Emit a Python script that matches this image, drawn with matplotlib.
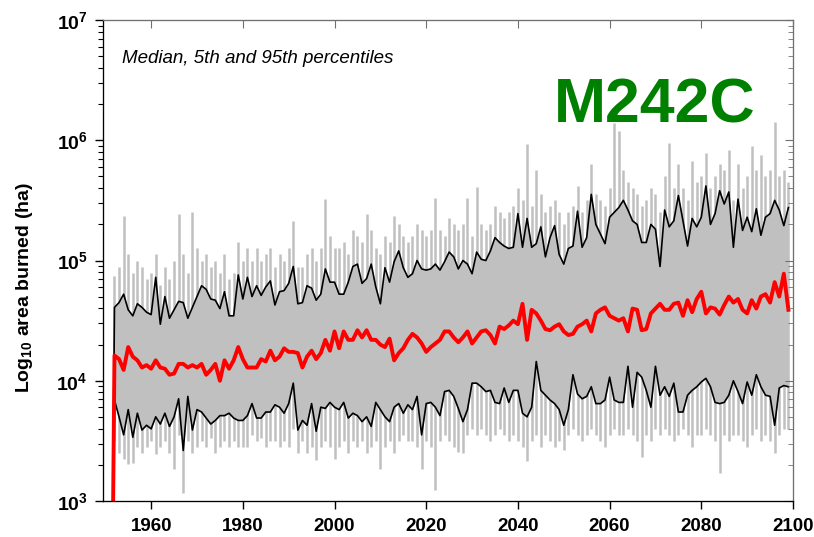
import numpy as np
import matplotlib
matplotlib.use("Agg")
import matplotlib.pyplot as plt
from matplotlib.ticker import FixedLocator, FixedFormatter, LogLocator, NullFormatter

plt.rcParams['font.family'] = ['Liberation Sans', 'DejaVu Sans']
plt.rcParams['mathtext.fontset'] = 'custom'
plt.rcParams['mathtext.rm'] = 'Liberation Sans'
plt.rcParams['mathtext.it'] = 'Liberation Sans:italic'
plt.rcParams['mathtext.bf'] = 'Liberation Sans:bold'

# simulation years; every series below is log10(area burned, ha)
years = np.arange(1952, 2100)
spinup_year = 1951
spinup_log = 0.0

p95 = [4.61, 4.65, 4.72, 4.59, 4.54, 4.64, 4.61, 4.57, 4.55,
       4.86, 4.47, 4.70, 4.52, 4.59, 4.66, 4.65, 4.52, 4.61, 4.70,
       4.79, 4.76, 4.68, 4.67, 4.60, 4.74, 4.54, 4.54, 4.88, 4.68,
       4.86, 4.70, 4.79, 4.71, 4.78, 4.83, 4.63, 4.74, 4.75, 4.81,
       4.95, 4.64, 4.65, 4.79, 4.77, 4.67, 4.72, 4.93, 4.82, 4.82,
       4.72, 4.72, 4.82, 4.95, 4.97, 4.81, 4.85, 4.97, 4.78, 4.64,
       4.94, 4.82, 4.99, 5.08, 4.94, 4.86, 4.89, 5.00, 4.93, 4.92,
       4.93, 4.97, 4.92, 4.99, 5.07, 5.03, 4.93, 5.00, 4.97, 4.89,
       5.07, 5.01, 5.00, 5.08, 5.19, 5.15, 5.12, 5.10, 5.11, 5.39,
       5.11, 5.35, 5.11, 5.14, 5.28, 5.03, 5.19, 5.29, 5.05, 4.97,
       5.10, 5.12, 5.41, 5.11, 5.19, 5.55, 5.30, 5.22, 5.14, 5.36,
       5.40, 5.44, 5.50, 5.42, 5.33, 5.30, 5.15, 5.15, 5.30, 5.26,
       4.95, 5.42, 5.28, 5.33, 5.54, 5.33, 5.12, 5.35, 5.28, 5.36,
       5.62, 5.30, 5.39, 5.58, 5.47, 5.57, 5.11, 5.51, 5.25, 5.36,
       5.24, 5.43, 5.21, 5.36, 5.39, 5.50, 5.42, 5.29, 5.44]

median = [4.21, 4.18, 4.09, 4.28, 4.20, 4.17, 4.11, 4.13, 4.10,
          4.17, 4.11, 4.10, 4.05, 4.06, 4.14, 4.14, 4.11, 4.13, 4.11,
          4.14, 4.05, 4.09, 4.14, 4.00, 4.17, 4.10, 4.17, 4.28, 4.18,
          4.11, 4.11, 4.11, 4.18, 4.16, 4.25, 4.17, 4.20, 4.27, 4.24,
          4.24, 4.23, 4.11, 4.20, 4.25, 4.18, 4.23, 4.34, 4.25, 4.41,
          4.27, 4.41, 4.34, 4.34, 4.42, 4.36, 4.42, 4.34, 4.34, 4.30,
          4.28, 4.35, 4.17, 4.23, 4.27, 4.34, 4.39, 4.36, 4.31, 4.24,
          4.28, 4.31, 4.34, 4.41, 4.41, 4.36, 4.32, 4.36, 4.41, 4.31,
          4.36, 4.41, 4.42, 4.38, 4.31, 4.45, 4.43, 4.46, 4.50, 4.47,
          4.64, 4.34, 4.59, 4.56, 4.50, 4.43, 4.42, 4.45, 4.47, 4.41,
          4.38, 4.39, 4.45, 4.47, 4.50, 4.41, 4.56, 4.59, 4.61, 4.54,
          4.52, 4.50, 4.52, 4.41, 4.60, 4.59, 4.42, 4.43, 4.56, 4.60,
          4.64, 4.59, 4.59, 4.64, 4.65, 4.54, 4.67, 4.57, 4.68, 4.74,
          4.56, 4.61, 4.60, 4.55, 4.63, 4.70, 4.65, 4.68, 4.59, 4.56,
          4.67, 4.60, 4.70, 4.72, 4.65, 4.82, 4.70, 4.89, 4.59]

p5 = [3.84, 3.70, 3.55, 3.76, 3.53, 3.73, 3.59, 3.63, 3.60,
      3.70, 3.64, 3.73, 3.62, 3.70, 3.85, 3.42, 3.87, 3.59, 3.76,
      3.74, 3.69, 3.64, 3.67, 3.71, 3.71, 3.73, 3.69, 3.67, 3.67,
      3.71, 3.81, 3.69, 3.69, 3.74, 3.74, 3.80, 3.78, 3.73, 3.81,
      3.98, 3.59, 3.67, 3.63, 3.81, 3.58, 3.78, 3.77, 3.82, 3.78,
      3.76, 3.82, 3.69, 3.73, 3.71, 3.66, 3.70, 3.62, 3.82, 3.76,
      3.70, 3.66, 3.78, 3.81, 3.73, 3.80, 3.76, 3.87, 3.55, 3.81,
      3.82, 3.78, 3.71, 3.91, 3.92, 3.87, 3.77, 3.66, 3.76, 3.98,
      3.98, 3.95, 3.91, 3.92, 3.82, 3.81, 3.94, 3.82, 3.92, 3.92,
      3.73, 3.70, 3.78, 4.16, 3.92, 3.88, 3.84, 3.81, 3.76, 3.63,
      3.76, 4.05, 3.89, 3.85, 3.87, 3.95, 3.81, 3.81, 3.84, 4.03,
      3.84, 3.82, 3.82, 4.12, 3.78, 4.07, 4.03, 3.92, 3.78, 4.12,
      3.88, 3.95, 3.87, 3.98, 3.74, 3.74, 3.88, 3.92, 3.95, 3.99,
      4.02, 3.95, 3.82, 3.81, 3.82, 3.88, 4.00, 3.91, 3.81, 3.99,
      3.88, 4.05, 3.95, 3.88, 3.87, 3.63, 3.94, 3.96, 3.95]

# largest and smallest run in each year
ens_max = [4.87, 4.95, 5.37, 5.05, 4.90, 5.00, 4.95, 4.85, 4.90,
           5.05, 4.80, 4.95, 4.85, 5.00, 5.39, 5.05, 4.90, 5.40, 5.10,
           5.00, 5.05, 4.95, 5.00, 4.90, 5.05, 4.85, 4.90, 5.15, 5.00,
           5.10, 5.00, 5.10, 5.00, 5.05, 5.10, 4.95, 5.05, 5.00, 5.10,
           5.33, 4.95, 4.95, 5.05, 5.10, 5.00, 5.10, 5.51, 5.20, 5.10,
           5.10, 5.15, 5.05, 5.25, 5.20, 5.15, 5.39, 5.25, 5.10, 5.05,
           5.20, 5.15, 5.37, 5.30, 5.20, 5.15, 5.20, 5.30, 5.25, 5.20,
           5.25, 5.52, 5.25, 5.20, 5.35, 5.30, 5.25, 5.30, 5.52, 5.20,
           5.61, 5.30, 5.25, 5.30, 5.45, 5.40, 5.35, 5.40, 5.45, 5.60,
           5.50, 5.97, 5.45, 5.75, 5.55, 5.40, 5.45, 5.50, 5.40, 5.30,
           5.40, 5.45, 5.62, 5.40, 5.50, 5.80, 5.55, 5.50, 5.45, 5.60,
           6.14, 6.08, 5.75, 5.65, 5.60, 5.55, 5.45, 5.50, 5.60, 5.55,
           5.40, 5.70, 5.98, 5.60, 5.80, 5.60, 5.50, 5.83, 5.65, 5.70,
           5.89, 5.60, 5.70, 5.80, 5.75, 5.92, 5.50, 5.80, 5.60, 5.70,
           5.95, 5.75, 5.88, 5.70, 5.75, 6.15, 5.70, 5.75, 5.65]

ens_min = [3.50, 3.40, 3.35, 3.31, 3.32, 3.45, 3.40, 3.45, 3.50,
           3.39, 3.45, 3.50, 3.40, 3.27, 3.55, 3.07, 3.50, 3.40, 3.45,
           3.50, 3.45, 3.52, 3.40, 3.45, 3.50, 3.45, 3.50, 3.45, 3.45,
           3.45, 3.55, 3.50, 3.52, 3.45, 3.50, 3.50, 3.45, 3.50, 3.45,
           3.60, 3.40, 3.50, 3.40, 3.45, 3.34, 3.45, 3.50, 3.45, 3.35,
           3.45, 3.50, 3.40, 3.50, 3.45, 3.50, 3.40, 3.45, 3.50, 3.27,
           3.45, 3.50, 3.40, 3.50, 3.55, 3.50, 3.50, 3.45, 3.27, 3.50,
           3.45, 3.09, 3.50, 3.55, 3.50, 3.45, 3.41, 3.40, 3.55, 3.60,
           3.55, 3.60, 3.55, 3.50, 3.55, 3.60, 3.55, 3.50, 3.55, 3.50,
           3.45, 3.33, 3.50, 3.55, 3.45, 3.55, 3.50, 3.45, 3.50, 3.42,
           3.55, 3.60, 3.55, 3.50, 3.55, 3.60, 3.55, 3.50, 3.45, 3.55,
           3.60, 3.55, 3.55, 3.60, 3.55, 3.50, 3.37, 3.55, 3.50, 3.60,
           3.55, 3.60, 3.55, 3.50, 3.55, 3.60, 3.55, 3.45, 3.55, 3.55,
           3.60, 3.55, 3.50, 3.23, 3.55, 3.50, 3.55, 3.55, 3.50, 3.45,
           3.55, 3.60, 3.50, 3.55, 3.50, 3.40, 3.55, 3.60, 3.60]

x_ticks = [1960, 1980, 2000, 2020, 2040, 2060, 2080, 2100]
y_decades = [3, 4, 5, 6, 7]

grey = '#c0c0c0'

fig = plt.figure(figsize=(8.14, 5.37), dpi=100)
ax = fig.add_axes([103 / 814, 36 / 537, 690 / 814, 481 / 537])

# ensemble spread
ax.vlines(years, 10.0 ** np.array(ens_min), 10.0 ** np.array(ens_max),
          color=grey, lw=1.8, zorder=1)
ax.fill_between(years, 10.0 ** np.array(p5), 10.0 ** np.array(p95),
                color=grey, lw=0, zorder=1)

# percentile lines start from the spin-up year
yrs = np.r_[spinup_year, years]
ax.plot(yrs, 10.0 ** np.r_[spinup_log, p95], color='black', lw=1.2, zorder=3)
ax.plot(yrs, 10.0 ** np.r_[spinup_log, p5], color='black', lw=1.2, zorder=3)
ax.plot(yrs, 10.0 ** np.r_[spinup_log, median], color='red', lw=2.8, zorder=4)

ax.set_yscale('log')
ax.set_xlim(1949.5, 2100)
ax.set_ylim(10.0 ** y_decades[0], 10.0 ** y_decades[-1])

ax.xaxis.set_major_locator(FixedLocator(x_ticks))
ax.set_xticklabels([str(t) for t in x_ticks], fontsize=13.5, fontweight='bold')
ax.yaxis.set_major_locator(FixedLocator([10.0 ** d for d in y_decades]))
ax.yaxis.set_major_formatter(FixedFormatter([r'$\mathbf{10^{%d}}$' % d for d in y_decades]))
ax.yaxis.set_minor_locator(LogLocator(base=10, subs=np.arange(2, 10)))
ax.yaxis.set_minor_formatter(NullFormatter())
for lab in ax.get_yticklabels():
    lab.set_fontsize(14)

ax.tick_params(axis='x', which='major', direction='out', length=6, width=1, pad=6)
ax.tick_params(axis='y', which='major', direction='out', length=6, width=1, pad=5)
ax.tick_params(axis='y', which='minor', direction='out', length=3.5, width=0.8)

# mirrored ticks on top and right, pointing inward
ax_top = ax.twiny()
ax_top.set_xlim(ax.get_xlim())
ax_top.xaxis.set_major_locator(FixedLocator(x_ticks))
ax_top.tick_params(axis='x', direction='in', length=6, labeltop=False)
ax_right = ax.twinx()
ax_right.set_yscale('log')
ax_right.set_ylim(ax.get_ylim())
ax_right.yaxis.set_major_locator(FixedLocator([10.0 ** d for d in y_decades]))
ax_right.yaxis.set_minor_locator(LogLocator(base=10, subs=np.arange(2, 10)))
ax_right.yaxis.set_minor_formatter(NullFormatter())
ax_right.tick_params(axis='y', which='major', direction='in', length=6, labelright=False)
ax_right.tick_params(axis='y', which='minor', direction='in', length=3.5)
for a in (ax, ax_top, ax_right):
    a.spines['top'].set_color('#707070')
    a.spines['right'].set_color('#707070')
ax_top.tick_params(axis='x', color='#707070')
ax_right.tick_params(axis='y', which='both', color='#707070')

ax.text(0.0275, 0.911, 'Median, 5th and 95th percentiles', transform=ax.transAxes,
        fontsize=13.5, style='italic', ha='left', va='baseline')
ax.text(0.945, 0.786, 'M242C', transform=ax.transAxes, fontsize=45,
        fontweight='bold', color='#008000', ha='right', va='baseline')

fig.text(25 / 814, 1 - 288 / 537, r'$\mathbf{Log_{10}}$ area burned (ha)', rotation=90,
         fontsize=14, fontweight='bold', ha='center', va='center')

fig.savefig('out.png', dpi=100)
